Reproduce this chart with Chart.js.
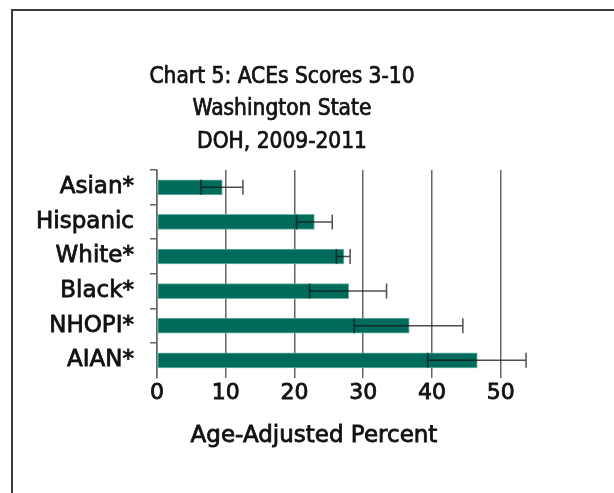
<!DOCTYPE html>
<html>
<head>
<meta charset="utf-8">
<script src="https://cdn.jsdelivr.net/npm/chart.js"></script>
<style>
    html, body { margin: 0; padding: 0; background: #fff; }
    #wrap { position: relative; width: 614px; height: 493px; overflow: hidden; }
    #frame { position: absolute; left: 11px; top: 9px; width: 700px; height: 600px;
             border-left: 2px solid #3a3a3a; border-top: 2px solid #3a3a3a; }
    canvas { position: absolute; left: 0; top: 0; }
</style>
</head>
<body>
<div id="wrap">
    <div id="frame"></div>
    <canvas id="acesChart" width="614" height="493"></canvas>
</div>

<script>
    const groups = ['Asian*', 'Hispanic', 'White*', 'Black*', 'NHOPI*', 'AIAN*'];
    const percent = [9.5, 22.9, 27.2, 27.9, 36.7, 46.6];
    const ciLow = [6.4, 20.3, 26.1, 22.2, 28.7, 39.4];
    const ciHigh = [12.5, 25.5, 28.1, 33.4, 44.5, 53.7];
    const titleLines = ['Chart 5: ACEs Scores 3-10', 'Washington State', 'DOH, 2009-2011'];
    const axisLabel = 'Age-Adjusted Percent';

    const lineColor = '#666666';
    const textColor = '#111111';
    const labelFont = '"DejaVu Sans"';
    const labelStroke = 0.8;   // a little extra weight for the axis text

    function heavyText(ctx, text, x, y, font, stroke) {
        ctx.font = font;
        ctx.fillStyle = textColor;
        ctx.strokeStyle = textColor;
        ctx.lineWidth = stroke;
        ctx.textAlign = 'center';
        ctx.textBaseline = 'middle';
        ctx.strokeText(text, x, y);
        ctx.fillText(text, x, y);
    }

    // confidence interval whiskers drawn on top of the bars
    const errorBars = {
        id: 'errorBars',
        afterDatasetsDraw(chart) {
            const ctx = chart.ctx;
            const x = chart.scales.x;
            const meta = chart.getDatasetMeta(0);
            ctx.save();
            ctx.strokeStyle = 'rgba(20,20,20,0.75)';
            ctx.lineWidth = 1.5;
            meta.data.forEach((bar, i) => {
                const y = bar.y;
                const half = bar.height / 2;
                const x1 = x.getPixelForValue(ciLow[i]);
                const x2 = x.getPixelForValue(ciHigh[i]);
                ctx.beginPath();
                ctx.moveTo(x1, y); ctx.lineTo(x2, y);
                ctx.moveTo(x1, y - half); ctx.lineTo(x1, y + half);
                ctx.moveTo(x2, y - half); ctx.lineTo(x2, y + half);
                ctx.stroke();
            });
            ctx.restore();
        }
    };

    // heading above the plot and caption under the x tick labels
    const captions = {
        id: 'captions',
        afterDraw(chart) {
            const ctx = chart.ctx;
            const area = chart.chartArea;
            const headX = (area.left - 128 + area.right) / 2;
            ctx.save();
            titleLines.forEach((line, i) => {
                heavyText(ctx, line, headX, area.top - 93 + i * 32.5,
                    '22.5px "DejaVu Sans Condensed", "DejaVu Sans"', 0.7);
            });
            heavyText(ctx, axisLabel, area.left + 157, area.bottom + 58, '23px ' + labelFont, labelStroke);
            ctx.restore();
        }
    };

    new Chart(document.getElementById('acesChart'), {
        type: 'bar',
        data: {
            labels: groups,
            datasets: [{
                label: 'Age-Adjusted Percent',
                data: percent,
                backgroundColor: '#006a5b',
                borderColor: 'rgba(90,175,158,0.9)',
                borderWidth: 1,
                borderSkipped: false,
                barThickness: 15
            }]
        },
        options: {
            indexAxis: 'y',
            responsive: false,
            animation: false,
            layout: { padding: { left: 29, right: 79, top: 170, bottom: 85 } },
            plugins: {
                legend: { display: false },
                tooltip: { enabled: false },
                title: { display: false }
            },
            scales: {
                x: {
                    min: 0,
                    max: 55,
                    border: { display: false },
                    grid: { color: lineColor, lineWidth: 1.5, drawTicks: false },
                    ticks: {
                        stepSize: 10,
                        includeBounds: false,
                        padding: 2,
                        color: textColor,
                        textStrokeColor: textColor,
                        textStrokeWidth: labelStroke,
                        font: { family: labelFont, size: 22 }
                    }
                },
                y: {
                    border: { display: true, color: lineColor, width: 1.5 },
                    grid: {
                        drawOnChartArea: false,
                        drawTicks: true,
                        tickLength: 7,
                        lineWidth: 1.5,
                        // no tick mark below the last category
                        color: c => (c.type === 'tick' ? lineColor : 'rgba(0,0,0,0)')
                    },
                    ticks: {
                        padding: 16,
                        color: textColor,
                        textStrokeColor: textColor,
                        textStrokeWidth: labelStroke,
                        font: { family: labelFont, size: 23 }
                    },
                    afterFit(scale) { scale.width = 128; }
                }
            }
        },
        plugins: [errorBars, captions]
    });
</script>
</body>
</html>
